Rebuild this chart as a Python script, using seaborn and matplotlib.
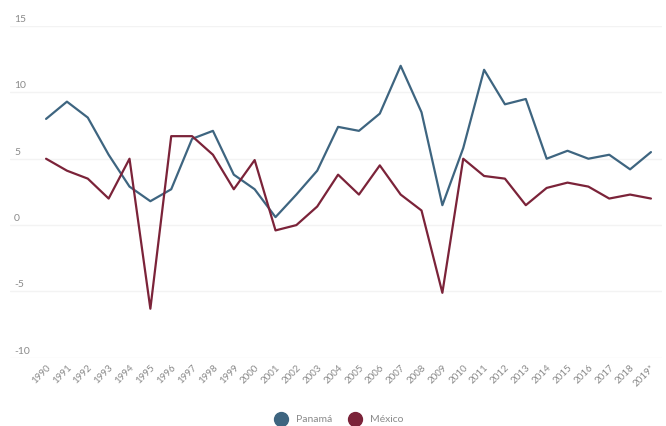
import matplotlib
matplotlib.use("Agg")
import matplotlib.pyplot as plt
import matplotlib.transforms as mtransforms
from matplotlib.lines import Line2D
import pandas as pd
import seaborn as sns

# data
years = list(range(1990, 2020))
year_labels = [str(y) for y in years[:-1]] + ["2019*"]
panama = [8.0, 9.3, 8.1, 5.3, 2.9, 1.8, 2.7, 6.5, 7.1, 3.8,
          2.7, 0.6, 2.3, 4.1, 7.4, 7.1, 8.4, 12.0, 8.5, 1.5,
          5.8, 11.7, 9.1, 9.5, 5.0, 5.6, 5.0, 5.3, 4.2, 5.5]
mexico = [5.0, 4.1, 3.5, 2.0, 5.0, -6.3, 6.7, 6.7, 5.3, 2.7,
          4.9, -0.4, 0.0, 1.4, 3.8, 2.3, 4.5, 2.3, 1.1, -5.1,
          5.0, 3.7, 3.5, 1.5, 2.8, 3.2, 2.9, 2.0, 2.3, 2.0]
y_ticks = [-10, -5, 0, 5, 10, 15]
series_names = ["Panamá", "México"]
colors = {"Panamá": "#3e6580", "México": "#7b2339"}

df = pd.DataFrame({
    "year": years * 2,
    "value": panama + mexico,
    "country": ["Panamá"] * len(years) + ["México"] * len(years),
})

sns.set_theme(style="white")
plt.rcParams["font.family"] = ["Lato", "DejaVu Sans"]

fig = plt.figure(figsize=(6.66, 4.26), dpi=100)
ax = fig.add_axes([0.015, 0.160, 0.979, 0.779])

sns.lineplot(data=df, x="year", y="value", hue="country", palette=colors,
             hue_order=series_names, linewidth=1.6, legend=False, ax=ax)

ax.set_xlim(1990 - 1.73, 2019 + 0.53)
ax.set_ylim(-10, 15)
ax.set_yticks(y_ticks)
ax.yaxis.grid(True, color="#f3f3f3", linewidth=1)
ax.set_yticklabels([])
ax.tick_params(axis="y", length=0)
for s in ax.spines.values():
    s.set_visible(False)

# y labels sit above the gridlines, at the left
trans = mtransforms.blended_transform_factory(ax.transAxes, ax.transData)
offset = mtransforms.offset_copy(trans, fig=fig, x=4, y=2, units="dots")
for t in y_ticks:
    ax.text(0.0, t, str(t), transform=offset, ha="left", va="bottom",
            fontsize=7.5, color="#8a8a8a")

ax.set_xticks(years)
ax.set_xticklabels(year_labels, rotation=45, ha="right",
                   rotation_mode="anchor", fontsize=7, color="#8a8a8a")
ax.tick_params(axis="x", length=0, pad=4)
ax.set_xlabel("")
ax.set_ylabel("")

handles = [Line2D([0], [0], marker="o", linestyle="", markersize=10,
                  markerfacecolor=colors[n], markeredgecolor=colors[n])
           for n in series_names]
fig.legend(handles, series_names, loc="center", bbox_to_anchor=(0.506, 0.015),
           ncol=2, frameon=False, fontsize=7.5, labelcolor="#8a8a8a",
           handletextpad=0.4, columnspacing=1.2)

fig.savefig("out.png", dpi=100)
